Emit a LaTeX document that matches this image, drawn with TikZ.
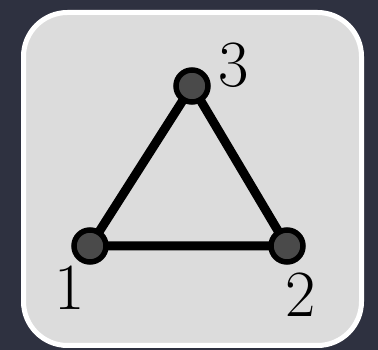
\documentclass[tikz,border=0pt]{standalone}
\usepackage{xcolor}
\usepackage{tikz}
\usetikzlibrary{positioning,calc,backgrounds}
\definecolor{bgDark}{HTML}{2E3140}
\definecolor{cardGray}{HTML}{DCDCDC}
\definecolor{vertGray}{HTML}{4A4A4A}

\begin{document}
\begin{tikzpicture}[x=1pt, y=1pt,
  card/.style={draw=white, line width=5pt, rounded corners=44pt, fill=cardGray},
  vert/.style={circle, draw=black, line width=5.5pt, fill=vertGray, minimum size=32pt, inner sep=0pt},
  edge/.style={draw=black, line width=9pt},
  lbl/.style={inner sep=0pt, font=\fontsize{66}{66}\selectfont}]
\useasboundingbox (0,0) rectangle (378,350);
% --- vertices ---
\node[vert] (v1) at (90,104) {};
\node[vert] (v2) at (287,104) {};
\node[vert] (v3) at (192,264) {};
% --- background, card and edges (behind the vertices) ---
\begin{scope}[on background layer]
\fill[bgDark] (0,0) rectangle (378,350);
\draw[card] (23.5,4.5) rectangle (361.5,337.5);
\draw[edge] (v1.center) -- (v2.center) -- (v3.center) -- cycle;
\end{scope}
% --- labels ---
\node[lbl] (l1) at (70,62) {1};
\node[lbl] (l2) at (301,55) {2};
\node[lbl] (l3) at (234,285) {3};
\end{tikzpicture}
\end{document}
